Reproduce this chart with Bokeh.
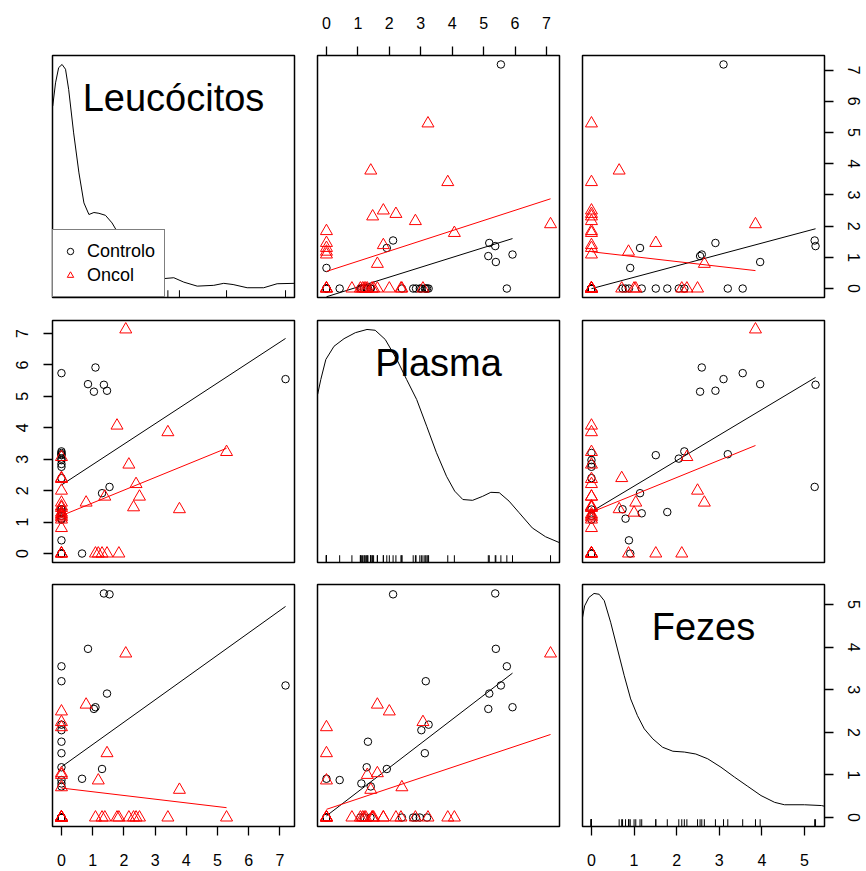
import numpy as np
from bokeh.plotting import figure
from bokeh.layouts import gridplot
from bokeh.models import Range1d, LinearAxis, FixedTicker, Legend, LegendItem, Label
from bokeh.embed import file_html
from bokeh.resources import INLINE

# ---------------- data ----------------
var_names = ["Leucócitos", "Plasma", "Fezes"]
group_names = ["Controlo", "Oncol"]

ctrl_leuc = [0, 1.09, 0.85, 1.04, 1.36, 1.46, 7.18, 1.54, 1.30, 0.66,
             0, 0, 0, 0, 0, 0, 0, 0, 0, 0, 0, 0, 0, 0, 0, 0, 0, 0, 0, 0, 0]
ctrl_plasma = [5.74, 5.92, 5.39, 5.15, 5.37, 5.18, 5.55, 2.12, 1.92, 0.00,
               3.16, 3.25, 3.02, 3.13, 1.32, 1.28, 1.41, 1.11, 0.42, 0.00,
               2.76, 3.20, 2.97, 0.00, 1.08, 1.40, 2.40, 1.20, 2.85, 0.00, 0.00]
ctrl_fezes = [3.55, 2.59, 3.96, 2.55, 5.26, 2.91, 3.10, 5.24, 1.14, 0.91,
              3.20, 2.18, 2.05, 1.51, 1.78, 1.18, 0.73, 0.80, 0.88, 0,
              0, 0, 0, 0, 0, 0, 0, 0, 0, 0, 0]

onc_leuc = [2.06, 1.78, 3.41, 5.29, 2.16, 0, 0, 0, 0, 2.39, 2.50, 1.39, 0.79, 2.31, 3.78,
            0, 0, 0, 0, 0, 0, 0, 1.46, 1.18, 1.84, 1.09, 1.30, 0, 0, 0, 0, 0]
onc_plasma = [7.13, 4.07, 3.86, 3.23, 2.83, 3.07, 2.37, 2.40, 2.00, 2.21, 1.81, 1.81, 1.62, 1.47, 1.41,
              0.81, 1.30, 1.62, 1.08, 1.20, 1.45, 0, 0, 0, 0, 0, 0, 0, 1.50, 1.25, 1.15, 0]
onc_fezes = [3.85, 0, 0, 0, 0, 2.24, 0, 0.71, 2.49, 0, 0, 0, 2.65, 0, 0.65,
             0, 1.00, 1.04, 0, 0, 0, 2.12, 1.51, 0.87, 0, 0, 0, 0, 0, 0, 0, 0]

leuc_ticks = [0, 1, 2, 3, 4, 5, 6, 7]
plasma_ticks = [0, 1, 2, 3, 4, 5, 6, 7]
fezes_ticks = [0, 1, 2, 3, 4, 5]

# density curves
leuc_dens_x = [-0.28, -0.19, -0.09, 0.02, 0.13, 0.23, 0.39, 0.56, 0.72, 0.88, 1.04, 1.20, 1.41,
               1.62, 1.78, 2.2, 2.6, 3.0, 3.3, 3.6, 3.92, 4.35, 4.88, 5.2, 5.5, 5.95, 6.48, 6.91, 7.47]
leuc_dens_y = [0.456, 0.514, 0.552, 0.560, 0.548, 0.498, 0.389, 0.289, 0.214, 0.185, 0.190, 0.188, 0.183,
               0.164, 0.143, 0.098, 0.053, 0.030, 0.025, 0.027, 0.016, 0.006, 0.008, 0.013, 0.010, 0.002,
               0.002, 0.012, 0.013]
plasma_dens_x = [-0.28, -0.18, -0.02, 0.24, 0.56, 0.92, 1.29, 1.55, 1.87, 2.24, 2.55, 2.87, 3.19,
                 3.5, 3.82, 4.08, 4.34, 4.65, 4.97, 5.23, 5.5, 5.81, 6.13, 6.55, 6.97, 7.42]
plasma_dens_y = [0.398, 0.435, 0.485, 0.518, 0.537, 0.552, 0.560, 0.558, 0.535, 0.485, 0.435, 0.385,
                 0.318, 0.252, 0.193, 0.156, 0.135, 0.133, 0.143, 0.153, 0.152, 0.131, 0.102, 0.064,
                 0.042, 0.027]
fezes_dens_x = [-0.21, -0.16, -0.06, 0.06, 0.18, 0.30, 0.45, 0.61, 0.77, 0.92, 1.08, 1.24, 1.44,
                1.67, 1.91, 2.18, 2.45, 2.73, 3.04, 3.36, 3.67, 3.98, 4.30, 4.53, 5.0, 5.4, 5.48]
fezes_dens_y = [0.501, 0.530, 0.551, 0.561, 0.559, 0.543, 0.489, 0.422, 0.355, 0.297, 0.255, 0.222,
                0.197, 0.176, 0.166, 0.164, 0.159, 0.147, 0.126, 0.101, 0.078, 0.055, 0.038, 0.032,
                0.032, 0.030, 0.028]

# ---------------- assembly ----------------
groups = [
    {"name": group_names[0], "vals": [ctrl_leuc, ctrl_plasma, ctrl_fezes], "color": "#000000",
     "marker": "circle", "size": 7.5},
    {"name": group_names[1], "vals": [onc_leuc, onc_plasma, onc_fezes], "color": "#FF0000",
     "marker": "triangle", "size": 12},
]
ticks = [leuc_ticks, plasma_ticks, fezes_ticks]
dens = [(leuc_dens_x, leuc_dens_y), (plasma_dens_x, plasma_dens_y), (fezes_dens_x, fezes_dens_y)]

FONT = "Liberation Sans"


def var_range(k):
    allv = np.array(groups[0]["vals"][k] + groups[1]["vals"][k], dtype=float)
    lo, hi = allv.min(), allv.max()
    pad = 0.04 * (hi - lo)
    return lo - pad, hi + pad


vranges = [var_range(k) for k in range(3)]

FW, FH = 242, 242
col_left = [52, 12, 12]
col_right = [11, 11, 42]
row_top = [55, 12, 12]
row_bottom = [11, 10, 45]


def style_axis(ax, tk, vertical=False, standoff=18):
    ax.ticker = FixedTicker(ticks=tk)
    ax.major_tick_out = 9
    ax.major_tick_in = 0
    ax.minor_tick_line_color = None
    ax.axis_line_color = None
    ax.major_tick_line_color = "black"
    ax.major_tick_line_width = 1.3
    ax.major_label_text_font = FONT
    ax.major_label_text_font_size = "16px"
    ax.major_label_text_color = "black"
    ax.major_label_standoff = standoff
    if vertical:
        ax.major_label_orientation = "vertical"


def make_panel(r, c, yr):
    xr = vranges[c]
    p = figure(width=col_left[c] + FW + col_right[c], height=row_top[r] + FH + row_bottom[r],
               x_range=Range1d(*xr), y_range=Range1d(*yr),
               x_axis_location=None, y_axis_location=None,
               toolbar_location=None, output_backend="svg",
               min_border_left=col_left[c], min_border_right=col_right[c],
               min_border_top=row_top[r], min_border_bottom=row_bottom[r],
               background_fill_color="white", border_fill_color="white")
    p.outline_line_color = "black"
    p.outline_line_width = 1.5
    p.grid.visible = False
    return p


grid = []
for r in range(3):
    row = []
    for c in range(3):
        if r == c:
            dx, dy = dens[r]
            dmax = max(dy)
            yr = (-0.04 * dmax, 1.04 * dmax)
            p = make_panel(r, c, yr)
            p.line(dx, dy, line_color="black", line_width=1)
            allv = groups[0]["vals"][r] + groups[1]["vals"][r]
            y0 = yr[0]
            y1 = yr[0] + 0.03 * (yr[1] - yr[0])
            p.segment(x0=allv, y0=[y0] * len(allv), x1=allv, y1=[y1] * len(allv),
                      line_color="black", line_width=1)
            xr = vranges[c]
            p.add_layout(Label(x=(xr[0] + xr[1]) / 2, y=yr[1] - 0.174 * (yr[1] - yr[0]),
                               text=var_names[r], text_align="center", text_baseline="alphabetic",
                               text_font=FONT, text_font_size="38px", text_color="black"))
            if r == 0:
                items = []
                for g in groups:
                    rr = p.scatter(x=[float("nan")], y=[float("nan")], marker=g["marker"], size=6,
                                   line_color=g["color"], fill_color=None, line_width=1)
                    items.append(LegendItem(label=g["name"], renderers=[rr]))
                leg = Legend(items=items, location="bottom_left", margin=0, padding=9, spacing=0,
                             label_height=24, glyph_height=24, glyph_width=16, label_standoff=9,
                             border_line_color="black", border_line_width=1.3,
                             background_fill_color="white", background_fill_alpha=1.0,
                             label_text_font=FONT, label_text_font_size="18px",
                             label_text_color="black")
                p.add_layout(leg)
        else:
            p = make_panel(r, c, vranges[r])
            for g in groups:
                x = np.array(g["vals"][c], dtype=float)
                y = np.array(g["vals"][r], dtype=float)
                p.scatter(x, y, marker=g["marker"], size=g["size"], line_color=g["color"],
                          fill_color=None, line_width=1)
                m, b = np.polyfit(x, y, 1)
                xs = [x.min(), x.max()]
                p.line(xs, [b + m * xs[0], b + m * xs[1]], line_color=g["color"], line_width=1)
        row.append(p)
    grid.append(row)

# axes (R pairs style: alternate sides)
ax = LinearAxis()
style_axis(ax, ticks[1], standoff=18)
grid[0][1].add_layout(ax, "above")

ax = LinearAxis()
style_axis(ax, ticks[0], vertical=True, standoff=14)
grid[0][2].add_layout(ax, "right")

ax = LinearAxis()
style_axis(ax, ticks[1], vertical=True, standoff=15)
grid[1][0].add_layout(ax, "left")

ax = LinearAxis()
style_axis(ax, ticks[0], standoff=18)
grid[2][0].add_layout(ax, "below")

ax = LinearAxis()
style_axis(ax, ticks[2], standoff=18)
grid[2][2].add_layout(ax, "below")

grid[2][2].extra_y_ranges = {"var": Range1d(*vranges[2])}
ax = LinearAxis(y_range_name="var")
style_axis(ax, ticks[2], vertical=True, standoff=14)
grid[2][2].add_layout(ax, "right")

layout = gridplot(grid, toolbar_location=None)

open("out.html", "w").write(file_html(layout, INLINE))
